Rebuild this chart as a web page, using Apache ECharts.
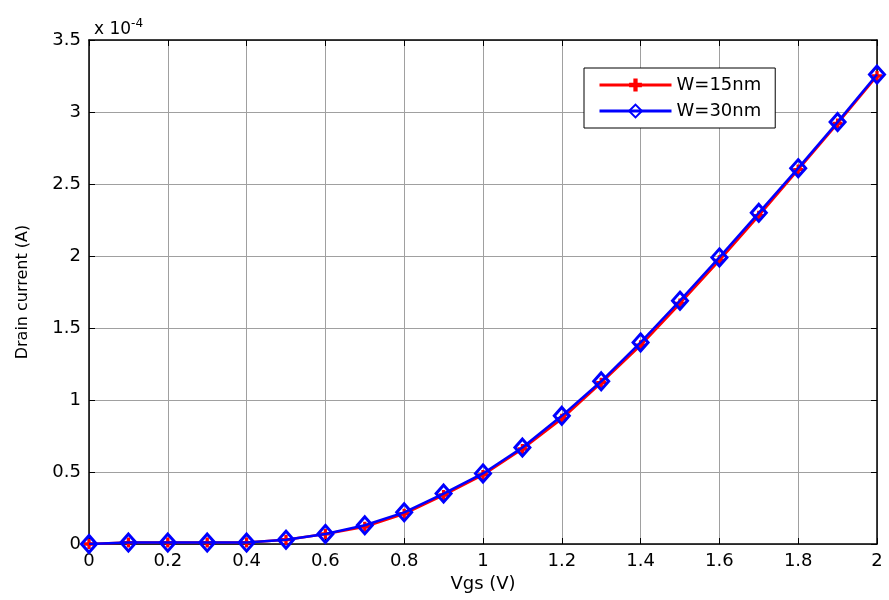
<!DOCTYPE html>
<html><head><meta charset="utf-8">
<script src="https://cdn.jsdelivr.net/npm/echarts@6/dist/echarts.min.js"></script>
<style>html,body{margin:0;padding:0;background:#fff}#c{width:889px;height:600px}</style>
</head><body><div id="c"></div>
<script>
const vgs = [0,0.1,0.2,0.3,0.4,0.5,0.6,0.7,0.8,0.9,1.0,1.1,1.2,1.3,1.4,1.5,1.6,1.7,1.8,1.9,2.0];
const w15 = [0,0.01,0.01,0.01,0.01,0.03,0.07,0.12,0.21,0.34,0.48,0.66,0.87,1.12,1.38,1.67,1.97,2.28,2.60,2.92,3.25];
const w30 = [0,0.01,0.01,0.01,0.01,0.03,0.07,0.13,0.22,0.35,0.49,0.67,0.89,1.13,1.40,1.69,1.99,2.30,2.61,2.93,3.26];
const seriesNames = ['W=15nm','W=30nm'];
const xLabel = 'Vgs (V)', yLabel = 'Drain current (A)';
const font = 'DejaVu Sans, Liberation Sans, Arial, sans-serif';
const plus = 'path://M-1,-3L1,-3L1,-1L3,-1L3,1L1,1L1,3L-1,3L-1,1L-3,1L-3,-1L-1,-1Z';
const pair = a => vgs.map((x,i)=>[x,a[i]]);
const chart = echarts.init(document.getElementById('c'), null, {renderer:'canvas'});
const axCommon = {
  axisLine:{show:true,onZero:false,lineStyle:{color:'#000',width:1.5}},
  axisTick:{show:true,inside:true,length:6,lineStyle:{color:'#000'}},
};
chart.setOption({
  backgroundColor:'#fff',
  animation:false,
  grid:{left:89,right:12,top:40,bottom:56,containLabel:false},
  title:{text:'x 10{s|-4}',left:89,top:13,textStyle:{fontFamily:font,fontSize:17,fontWeight:'normal',color:'#000',rich:{s:{fontSize:12,verticalAlign:'top',padding:[0,0,12,0],fontFamily:font}}}},
  legend:{
    data:seriesNames, orient:'vertical', left:584, top:68,
    backgroundColor:'#fff', borderColor:'#000', borderWidth:1,
    padding:[8,14,8,14], itemGap:8, itemWidth:72, itemHeight:16,
    lineStyle:{width:3},
    textStyle:{fontFamily:font,fontSize:18,color:'#000'}
  },
  xAxis:[
    Object.assign({type:'value',min:0,max:2,interval:0.2,position:'bottom',
      name:xLabel,nameLocation:'middle',nameGap:30,nameTextStyle:{fontFamily:font,fontSize:18,color:'#000'},
      axisLabel:{fontFamily:font,fontSize:18,color:'#000',margin:8,formatter:v=>String(+v.toFixed(1))},
      splitLine:{show:true,lineStyle:{color:'#a0a0a0',width:1}}},axCommon),
    Object.assign({type:'value',min:0,max:2,interval:0.2,position:'top',axisLabel:{show:false},splitLine:{show:false}},axCommon)
  ],
  yAxis:[
    Object.assign({type:'value',min:0,max:3.5,interval:0.5,position:'left',
      name:yLabel,nameLocation:'middle',nameGap:58,nameTextStyle:{fontFamily:font,fontSize:16,color:'#000'},
      axisLabel:{fontFamily:font,fontSize:18,color:'#000',margin:8,formatter:v=>String(+v.toFixed(1))},
      splitLine:{show:true,lineStyle:{color:'#a0a0a0',width:1}}},axCommon),
    Object.assign({type:'value',min:0,max:3.5,interval:0.5,position:'right',axisLabel:{show:false},splitLine:{show:false}},axCommon)
  ],
  series:[
    {name:seriesNames[0],type:'line',data:pair(w15),symbol:plus,symbolSize:10,
      lineStyle:{color:'#ff0000',width:2.5},itemStyle:{color:'#ff0000',borderWidth:0},z:2},
    {name:seriesNames[1],type:'line',data:pair(w30),symbol:'diamond',symbolSize:[15,17],
      lineStyle:{color:'#0000ff',width:2.5},itemStyle:{color:'rgba(0,0,0,0)',borderColor:'#0000ff',borderWidth:3},z:3}
  ]
});
</script></body></html>
